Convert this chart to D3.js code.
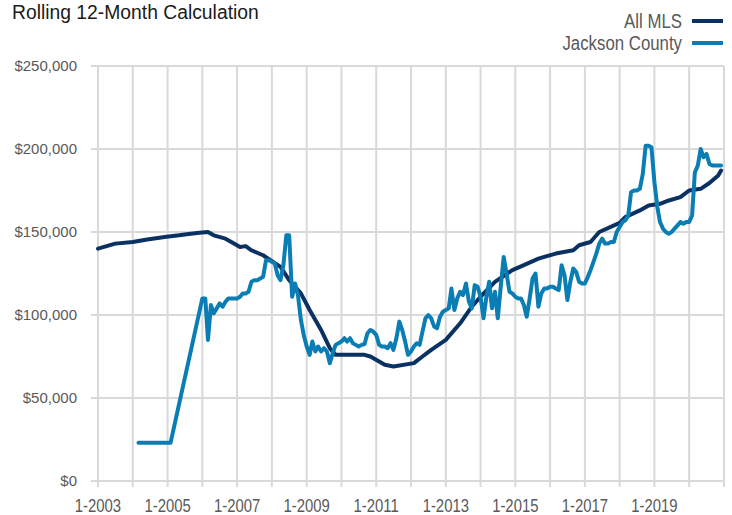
<!DOCTYPE html>
<html>
<head>
<meta charset="utf-8">
<script src="https://cdn.jsdelivr.net/npm/d3@7"></script>
<style>
  body { margin: 0; background: #fff; }
  svg { display: block; }
</style>
</head>
<body>
<div id="chart"></div>
<script>
// All MLS, rolling 12-month median
const mlsMonths = ['2003-01','2003-07','2004-01','2004-06','2004-12','2005-05','2005-09','2005-12','2006-03','2006-05',
  '2006-09','2006-11','2007-02','2007-04','2007-06','2007-10','2008-04','2008-07','2008-11','2009-02',
  '2009-06','2009-09','2009-11','2010-09','2010-11','2011-04','2011-07','2012-02','2012-05','2012-08',
  '2013-01','2013-06','2013-10','2014-01','2014-06','2014-12','2015-04','2015-09','2016-03','2016-09',
  '2016-11','2017-03','2017-06','2018-01','2018-03','2018-08','2018-11','2019-03','2019-06','2019-10',
  '2020-01','2020-05','2020-08','2020-11','2020-12'];
const mlsValues = [140000,143000,144000,145500,147000,148000,149000,149600,150000,148000,
  146000,144000,141000,141500,139000,136000,129000,121000,113000,103000,
  91000,80000,76000,76000,75000,70000,69000,71000,75000,79000,
  85000,95000,105000,111000,120000,127000,130000,134000,137000,139000,
  142000,144000,150000,155500,159000,163000,166000,167000,169000,171000,
  175000,176000,179500,184000,187000];

// Jackson County
const jcMonths = ['2004-03','2005-02','2006-01','2006-02','2006-03','2006-04','2006-05','2006-06','2006-07','2006-08',
  '2006-09','2006-10','2006-11','2006-12','2007-01','2007-02','2007-03','2007-04','2007-05','2007-06',
  '2007-07','2007-08','2007-09','2007-10','2007-11','2007-12','2008-01','2008-02','2008-03','2008-04',
  '2008-05','2008-06','2008-07','2008-08','2008-09','2008-10','2008-11','2008-12','2009-01','2009-02',
  '2009-03','2009-04','2009-05','2009-06','2009-07','2009-08','2009-09','2009-10','2009-11','2009-12',
  '2010-01','2010-02','2010-03','2010-04','2010-05','2010-06','2010-07','2010-08','2010-09','2010-10',
  '2010-11','2010-12','2011-01','2011-02','2011-03','2011-04','2011-05','2011-06','2011-07','2011-08',
  '2011-09','2011-10','2011-11','2011-12','2012-01','2012-02','2012-03','2012-04','2012-05','2012-06',
  '2012-07','2012-08','2012-09','2012-10','2012-11','2012-12','2013-01','2013-02','2013-03','2013-04',
  '2013-05','2013-06','2013-07','2013-08','2013-09','2013-10','2013-11','2013-12','2014-01','2014-02',
  '2014-03','2014-04','2014-05','2014-06','2014-07','2014-08','2014-09','2014-10','2014-11','2014-12',
  '2015-01','2015-02','2015-03','2015-04','2015-05','2015-06','2015-07','2015-08','2015-09','2015-10',
  '2015-11','2015-12','2016-01','2016-02','2016-03','2016-04','2016-05','2016-06','2016-07','2016-08',
  '2016-09','2016-10','2016-11','2016-12','2017-01','2017-02','2017-03','2017-04','2017-05','2017-06',
  '2017-07','2017-08','2017-09','2017-10','2017-11','2017-12','2018-01','2018-02','2018-03','2018-04',
  '2018-05','2018-06','2018-07','2018-08','2018-09','2018-10','2018-11','2018-12','2019-01','2019-02',
  '2019-03','2019-04','2019-05','2019-06','2019-07','2019-08','2019-09','2019-10','2019-11','2019-12',
  '2020-01','2020-02','2020-03','2020-04','2020-05','2020-06','2020-07','2020-08','2020-09','2020-10',
  '2020-11','2020-12'];
const jcValues = [23000,23000,110000,110000,85000,106000,101000,104000,107000,105000,
  108000,110000,110000,110000,110000,111000,113000,113000,114000,120000,
  121000,121000,122000,123000,133000,133000,132000,131000,124000,121000,
  130000,148000,148000,111000,119000,112000,97000,88000,81000,76000,
  84000,78000,81000,78000,80000,78000,71000,77000,82000,83000,
  84000,86000,84000,86000,83000,82000,81000,82000,82500,89000,
  91000,90000,88000,82000,81000,81000,80000,83000,79000,86000,
  96000,91000,84000,76000,78000,81000,83000,82000,90000,98000,
  100000,98000,93000,92000,99000,102000,103000,104000,116000,103000,
  110000,114000,112000,119000,108000,104000,118000,117000,111000,98000,
  110000,120000,104000,114000,98000,117000,135000,125000,114000,113000,
  111000,110000,110000,106000,99000,110000,122000,125000,105000,113000,
  116000,116000,117000,117000,116000,115000,130000,124000,109000,120000,
  128000,126000,120000,119000,119000,123000,127000,132000,137000,143000,
  146000,143000,143000,144000,144000,150000,153000,156000,157000,160000,
  174000,175000,175000,176000,185000,202000,202000,201000,180000,165000,
  156000,152000,150000,149000,150000,152000,154000,156000,155000,156000,
  156000,160000,186000,190000,200000,195000,197000,191000,190000,190000,
  190000,190000];

const yTicks = [0, 50000, 100000, 150000, 200000, 250000];
const gridYears = [2003,2004,2005,2006,2007,2008,2009,2010,2011,2012,2013,2014,2015,2016,2017,2018,2019,2020,2021];
const labelYears = [2003,2005,2007,2009,2011,2013,2015,2017,2019];
const seriesNames = ['All MLS', 'Jackson County'];
const seriesColors = ['#0b3163', '#0a7db4'];

const width = 732, height = 515;
const margin = { top: 66, right: 8, bottom: 34, left: 98 };

const pa_da = d3.timeParse('%Y-%m');
const mlsData = mlsMonths.map((m, i) => ({ date: pa_da(m), value: mlsValues[i] }));
const jcData = jcMonths.map((m, i) => ({ date: pa_da(m), value: jcValues[i] }));

const svg = d3.select('#chart')
  .append('svg')
  .attr('width', width)
  .attr('height', height);

const x_sc = d3.scaleTime()
  .domain([new Date(2003, 0, 1), new Date(2021, 0, 1)])
  .range([margin.left, width - margin.right]);

const y_sc = d3.scaleLinear()
  .domain([0, 250000])
  .range([height - margin.bottom, margin.top]);

const gridColor = '#d9d9d9';
const textColor = '#595959';
const sans = '"Liberation Sans", Arial, sans-serif';

// the original uses a condensed face; squeeze the glyphs horizontally
function condense(sel, k) {
  sel.each(function () {
    const w = this.getComputedTextLength();
    d3.select(this)
      .attr('textLength', w * k)
      .attr('lengthAdjust', 'spacingAndGlyphs');
  });
}

// horizontal grid
svg.append('g')
  .selectAll('line')
  .data(yTicks)
  .enter()
  .append('line')
  .attr('x1', margin.left - 7)
  .attr('x2', width - margin.right)
  .attr('y1', d => y_sc(d))
  .attr('y2', d => y_sc(d))
  .attr('stroke', gridColor)
  .attr('stroke-width', 2);

// vertical grid (runs a little below the baseline as tick marks)
svg.append('g')
  .selectAll('line')
  .data(gridYears)
  .enter()
  .append('line')
  .attr('x1', d => x_sc(new Date(d, 0, 1)))
  .attr('x2', d => x_sc(new Date(d, 0, 1)))
  .attr('y1', margin.top)
  .attr('y2', height - margin.bottom + 6)
  .attr('stroke', gridColor)
  .attr('stroke-width', 2);

// y labels
svg.append('g')
  .selectAll('text')
  .data(yTicks)
  .enter()
  .append('text')
  .attr('x', 77)
  .attr('y', d => y_sc(d))
  .attr('dy', '0.35em')
  .attr('text-anchor', 'end')
  .style('font-family', sans)
  .style('font-size', '15px')
  .style('fill', textColor)
  .text(d => '$' + d3.format(',')(d));

// x labels
svg.append('g')
  .selectAll('text')
  .data(labelYears)
  .enter()
  .append('text')
  .attr('x', d => x_sc(new Date(d, 0, 1)))
  .attr('y', 512)
  .attr('text-anchor', 'middle')
  .style('font-family', sans)
  .style('font-size', '17.5px')
  .style('fill', textColor)
  .text(d => '1-' + d)
  .call(condense, 0.85);

const line = d3.line()
  .x(d => x_sc(d.date))
  .y(d => y_sc(d.value));

[mlsData, jcData].forEach((data, i) => {
  svg.append('path')
    .datum(data)
    .attr('d', line)
    .attr('fill', 'none')
    .attr('stroke', seriesColors[i])
    .attr('stroke-width', 4)
    .attr('stroke-linejoin', 'round')
    .attr('stroke-linecap', 'round');
});

// title
svg.append('text')
  .attr('x', 12)
  .attr('y', 18.5)
  .style('font-family', sans)
  .style('font-size', '20px')
  .style('fill', '#1a1a1a')
  .text('Rolling 12-Month Calculation')
  .call(condense, 0.965);

// legend
const le_gr = svg.append('g')
  .selectAll('g')
  .data(seriesNames)
  .enter()
  .append('g')
  .attr('transform', (d, i) => `translate(0,${21 + i * 22})`);

le_gr.append('text')
  .attr('x', 682)
  .attr('y', 0)
  .attr('dy', '0.35em')
  .attr('text-anchor', 'end')
  .style('font-family', sans)
  .style('font-size', '20px')
  .style('fill', textColor)
  .text(d => d)
  .call(condense, 0.84);

le_gr.append('line')
  .attr('x1', 692)
  .attr('x2', 723)
  .attr('y1', 0)
  .attr('y2', 0)
  .attr('stroke', (d, i) => seriesColors[i])
  .attr('stroke-width', 4);
</script>
</body>
</html>
